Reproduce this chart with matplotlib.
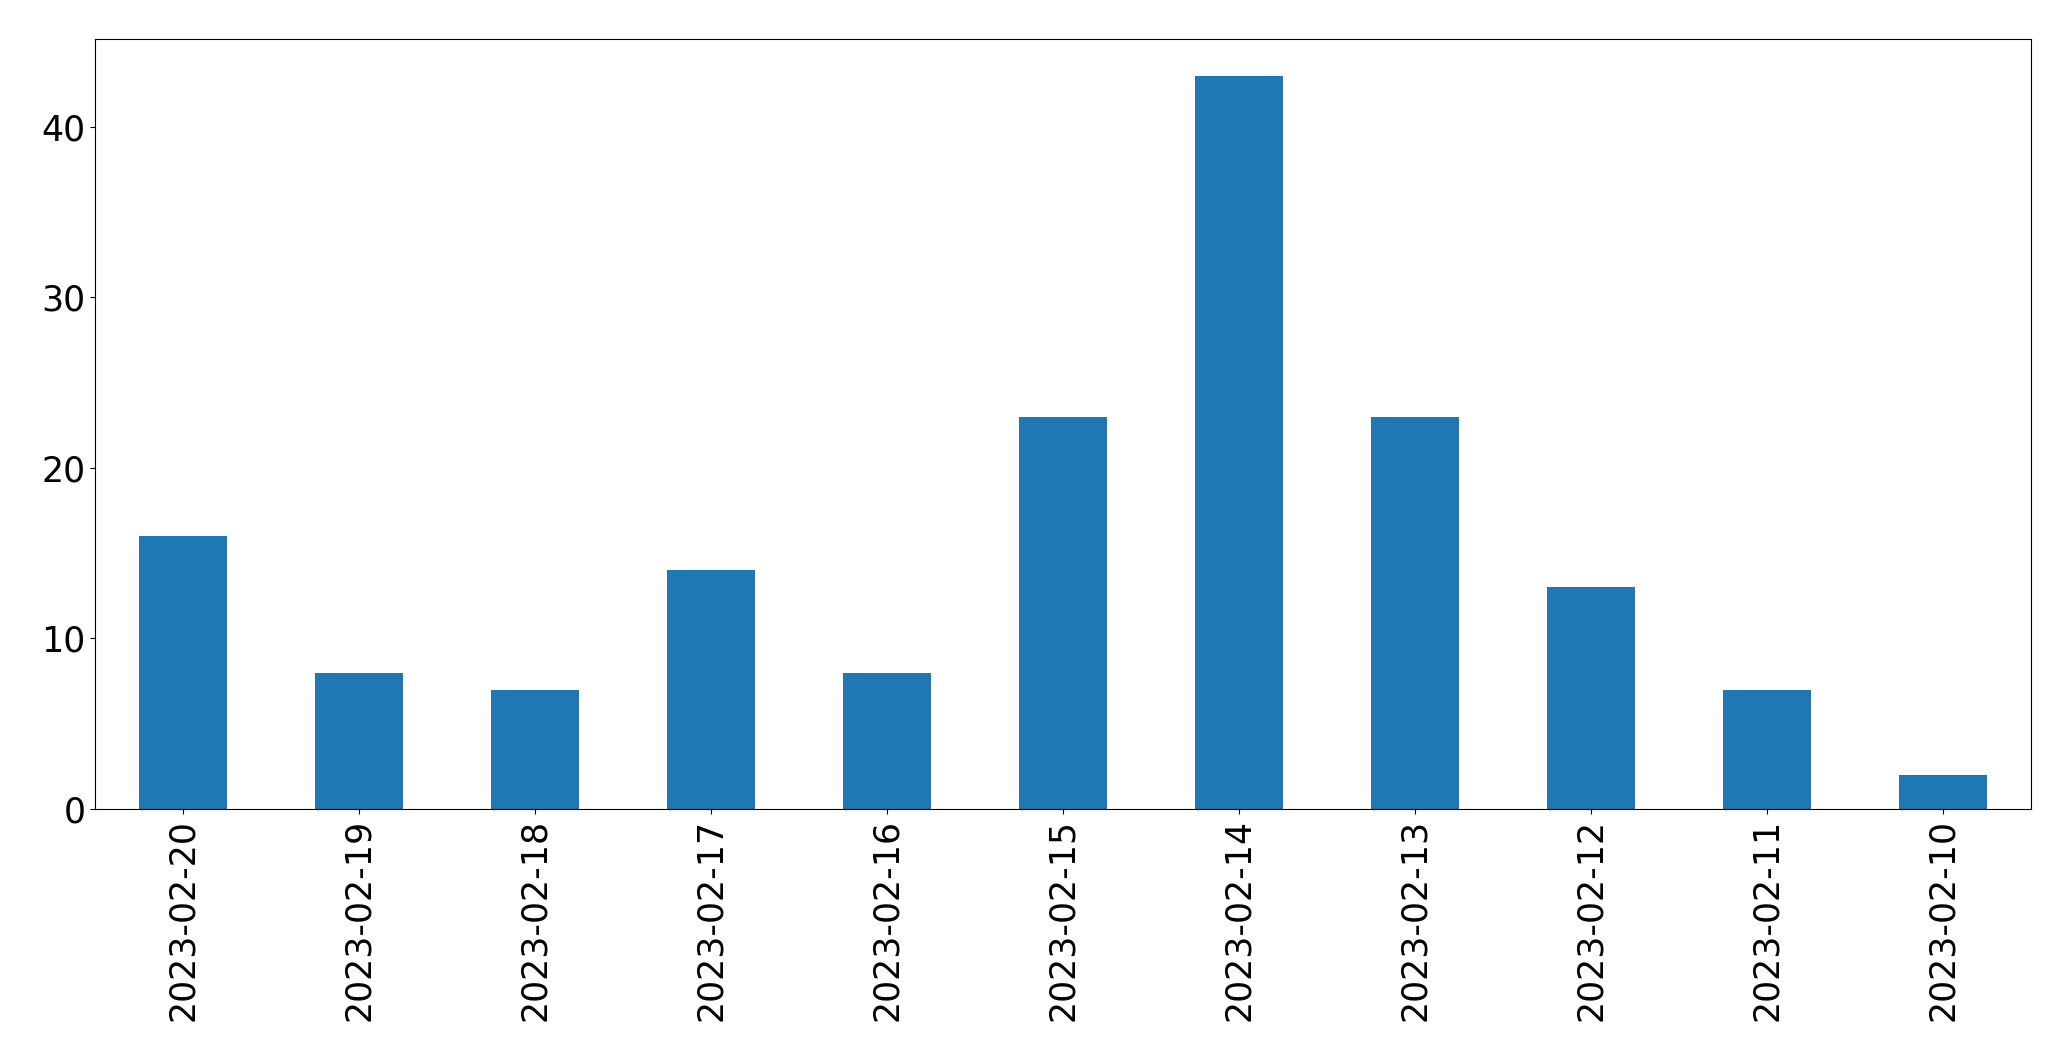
import matplotlib
matplotlib.use("Agg")
import matplotlib.pyplot as plt
import pandas as pd

dates = ["2023-02-20", "2023-02-19", "2023-02-18", "2023-02-17", "2023-02-16",
         "2023-02-15", "2023-02-14", "2023-02-13", "2023-02-12", "2023-02-11",
         "2023-02-10"]
counts = [16, 8, 7, 14, 8, 23, 43, 23, 13, 7, 2]

s = pd.Series(counts, index=dates)

fig = plt.figure(figsize=(20.71, 10.61), dpi=100)
ax = fig.add_axes([95/2071, 1 - 809/1061, (2031 - 95)/2071, (809 - 39)/1061])
s.plot(kind="bar", ax=ax, color="#1f77b4", fontsize=25)
ax.tick_params(axis="both", labelsize=25)
fig.savefig("out.png", dpi=100)
